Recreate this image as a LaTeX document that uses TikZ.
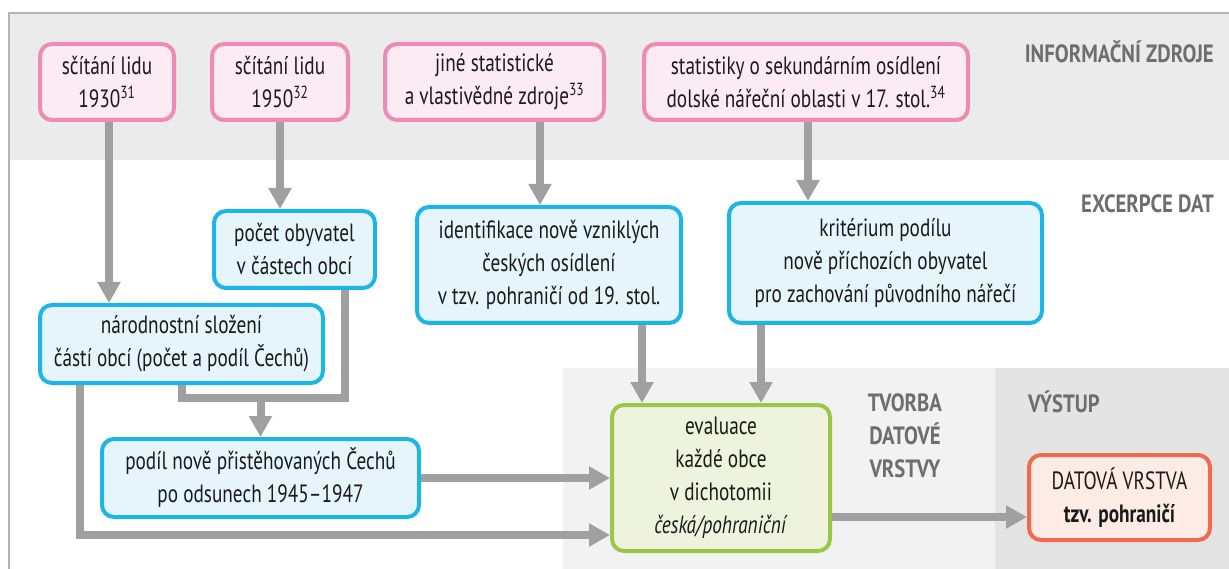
\documentclass[tikz,border=0pt]{standalone}
\usepackage{fontspec}
\setmainfont[FakeStretch=0.77]{PT Sans}
\newfontfamily\headfont[FakeStretch=0.83]{PT Sans}
\usetikzlibrary{arrows.meta}
\definecolor{bandtop}{HTML}{EBEBEB}
\definecolor{bandtv}{HTML}{F2F2F2}
\definecolor{bandout}{HTML}{E4E4E4}
\definecolor{frame}{HTML}{B3B3B3}
\definecolor{pinkfill}{HTML}{FCEBF3}
\definecolor{pinkline}{HTML}{EE8AB6}
\definecolor{bluefill}{HTML}{E6F4FC}
\definecolor{blueline}{HTML}{1CB5EA}
\definecolor{greenfill}{HTML}{EEF3DD}
\definecolor{greenline}{HTML}{9BC747}
\definecolor{redfill}{HTML}{FDEBE6}
\definecolor{redline}{HTML}{EE6B4D}
\definecolor{arrowgray}{HTML}{A0A0A0}
\definecolor{headgray}{HTML}{6E6E6E}
\definecolor{txt}{HTML}{1A1A1A}
\tikzset{
  box/.style={rounded corners=12pt, line width=4pt, inner sep=0pt, align=center,
    text=txt, font=\fontsize{25}{33}\selectfont},
  pinkbox/.style={box, draw=pinkline, fill=pinkfill},
  bluebox/.style={box, draw=blueline, fill=bluefill},
  greenbox/.style={box, draw=greenline, fill=greenfill},
  redbox/.style={box, draw=redline, fill=redfill},
  conn/.style={draw=arrowgray, line width=8pt},
  arr/.style={conn, -{Triangle[length=21pt,width=22pt]}},
  head/.style={text=headgray, font=\headfont\fontsize{25}{33}\selectfont\bfseries, inner sep=0pt}
}
\begin{document}
\begin{tikzpicture}[x=1pt,y=-1pt]
\useasboundingbox (0,0) rectangle (1229,569);
% backgrounds
\fill[white] (0,0) rectangle (1229,569);
\fill[bandtop] (9,13) rectangle (1229,160);
\fill[bandtv] (563,368) rectangle (995,569);
\fill[bandout] (995,368) rectangle (1229,569);
\draw[frame, line width=2.5pt] (9,569) -- (9,13) -- (1229,13);
% headings
\node[head, anchor=east] (h1) at (1214,52) {INFORMAČNÍ ZDROJE};
\node[head, anchor=east] (h2) at (1214,204) {EXCERPCE DAT};
\node[head, align=center] (h3) at (905,436) {TVORBA\\DATOVÉ\\VRSTVY};
\node[head, anchor=west] (h4) at (1028,402) {VÝSTUP};
% source boxes
\node[pinkbox, minimum width=134pt, minimum height=76pt] (s1930) at (107,82) {sčítání lidu\\1930\textsuperscript{31}};
\node[pinkbox, minimum width=136pt, minimum height=76pt] (s1950) at (280,82) {sčítání lidu\\1950\textsuperscript{32}};
\node[pinkbox, minimum width=219pt, minimum height=76pt] (zdroje) at (494.5,82) {jiné statistické\\a vlastivědné zdroje\textsuperscript{33}};
\node[pinkbox, minimum width=324pt, minimum height=76pt] (stat) at (806,82) {statistiky o sekundárním osídlení\\dolské nářeční oblasti v 17. stol.\textsuperscript{34}};
% excerpt boxes
\node[bluebox, minimum width=161pt, minimum height=77pt] (pocet) at (294.5,249.5) {počet obyvatel\\v částech obcí};
\node[bluebox, minimum width=264pt, minimum height=116pt] (ident) at (549,265) {identifikace nově vzniklých\\českých osídlení\\v tzv. pohraničí od 19. stol.};
\node[bluebox, minimum width=313pt, minimum height=120pt] (krit) at (885.5,263) {kritérium podílu\\nově příchozích obyvatel\\pro zachování původního nářečí};
\node[bluebox, minimum width=283pt, minimum height=78pt] (narod) at (181.5,344) {národnostní složení\\částí obcí (počet a podíl Čechů)};
\node[bluebox, minimum width=317pt, minimum height=78pt] (podil) at (260.5,478) {podíl nově přistěhovaných Čechů\\po odsunech 1945–1947};
\node[greenbox, minimum width=218pt, minimum height=146pt] (eval) at (721,478) {evaluace\\každé obce\\v dichotomii\\\textit{česká/pohraniční}};
\node[redbox, minimum width=181pt, minimum height=85pt] (out) at (1119.5,497.5) {DATOVÁ VRSTVA\\\textbf{tzv. pohraničí}};
% connectors
\coordinate (a1) at ([xshift=2pt]s1930.south);
\draw[arr] (a1) -- (a1 |- narod.north);
\draw[arr] (s1950.south) -- (s1950.south |- pocet.north);
\coordinate (a3) at ([xshift=45.5pt]zdroje.south);
\draw[arr] (a3) -- (a3 |- ident.north);
\coordinate (a4) at ([xshift=2pt]stat.south);
\draw[arr] (a4) -- (a4 |- krit.north);
\coordinate (i1) at ([xshift=93pt]ident.south);
\draw[arr] (i1) -- (i1 |- eval.north);
\coordinate (k1) at ([xshift=-124.5pt]krit.south);
\draw[arr] (k1) -- (k1 |- eval.north);
\coordinate (p1) at ([xshift=50.5pt]pocet.south);
\coordinate (j) at (260,398);
\draw[conn] (narod.south) -- (narod.south |- j) -- (p1 |- j) -- (p1);
\draw[arr] (podil.north |- j) -- (podil.north);
\draw[arr] (podil.east) -- (podil.east -| eval.west);
\coordinate (n1) at ([xshift=-101.5pt]narod.south);
\coordinate (e2) at ([yshift=-57pt]eval.west);
\draw[arr] (n1) |- (e2);
\coordinate (e3) at ([yshift=-39pt]eval.east);
\draw[arr] (e3) -- (e3 -| out.west);
\end{tikzpicture}
\end{document}
